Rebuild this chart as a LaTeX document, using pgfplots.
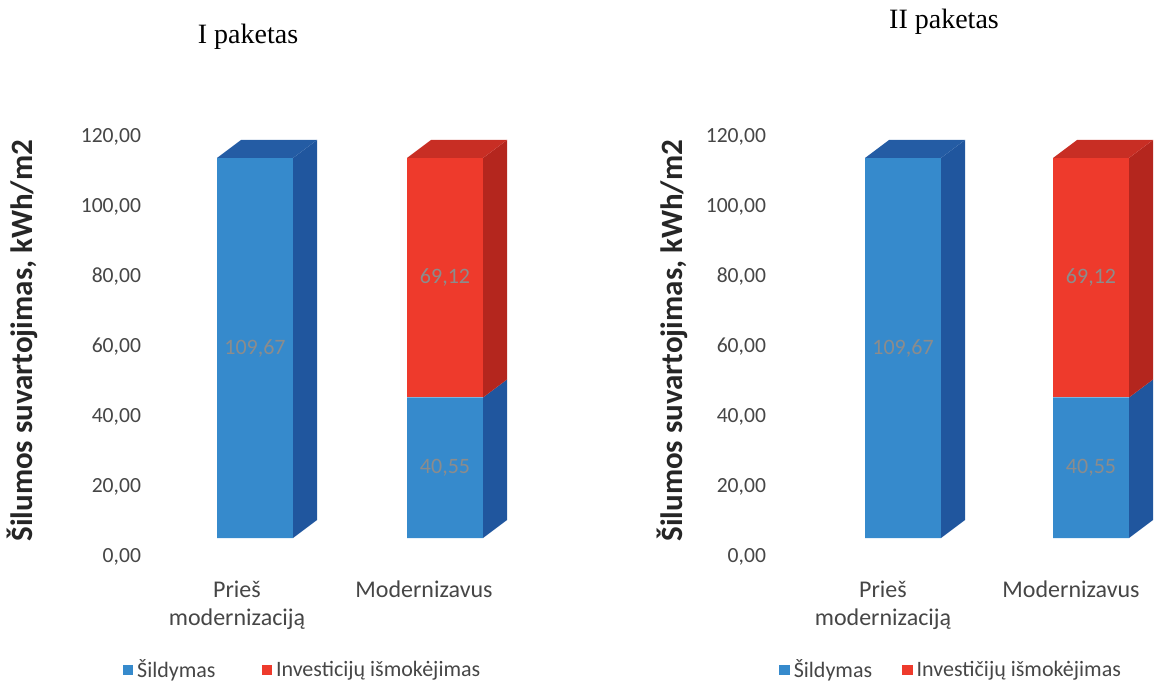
\documentclass[border=0pt]{standalone}
\usepackage{pgfplots}
\pgfplotsset{compat=1.18}
\usepackage{fontspec}
\setmainfont{Carlito}
\newfontfamily\titlefont{Liberation Serif}
\definecolor{fblue}{RGB}{54,138,204}
\definecolor{sblue}{RGB}{32,86,158}
\definecolor{tblue}{RGB}{36,92,164}
\definecolor{fred}{RGB}{238,58,44}
\definecolor{sred}{RGB}{180,38,30}
\definecolor{tred}{RGB}{200,46,36}
\definecolor{tickgray}{RGB}{70,70,70}
\definecolor{valgray}{RGB}{140,140,140}
\tikzset{val/.style={text=valgray, font=\fontsize{11}{13}\selectfont}}

\pgfplotsset{
  tickaxis/.style={
    scale only axis, height=210pt, ymin=0, ymax=120,
    ytick={0,20,...,120},
    axis line style={draw=none}, tick style={draw=none},
    major tick length=0pt,
    yticklabel style={font=\fontsize{10.8}{13}\selectfont, text=tickgray,
      /pgf/number format/fixed, /pgf/number format/fixed zerofill,
      /pgf/number format/precision=2, /pgf/number format/use comma,
      /pgf/number format/assume math mode=true},
    xticklabel style={font=\fontsize{12}{14}\selectfont, text=tickgray,
      align=center, yshift=-8.5pt},
    ylabel={Šilumos suvartojimas, kWh/m2},
    ylabel style={font=\bfseries\fontsize{15.5}{18}\selectfont, text=black!85, anchor=center},
  },
  baraxis/.style={
    scale only axis, height=207.9pt, ymin=0, ymax=120, hide axis,
  },
}

\begin{document}
\begin{tikzpicture}
\useasboundingbox (0,0) rectangle (578pt,340.5pt);

% ---------------- Left panel ----------------
\begin{axis}[tickaxis, width=186pt, at={(74pt,62pt)}, anchor=south west,
  xmin=148, xmax=520, xtick={237,424},
  xticklabels={{Prieš\\modernizaciją},{Modernizavus}},
  ylabel style={at={(axis description cs:-0.339,0.515)}}]
\end{axis}

\begin{axis}[baraxis, width=186pt, at={(74pt,71.5pt)}, anchor=south west,
  xmin=148, xmax=520, ybar stacked, bar width=76,
  legend columns=2,
  legend style={draw=none, fill=none, at={(-0.085,-0.3175)}, anchor=west,
    font=\fontsize{11}{13}\selectfont, text=tickgray,
    /tikz/every even column/.append style={column sep=21pt}},
  legend image code/.code={\fill[#1] (0pt,-2.6pt) rectangle (5.2pt,2.6pt);}]
  \addplot[fill=fblue, draw=none] coordinates {(255,109.67) (445,40.55)};
  \addplot[fill=fred, draw=none] coordinates {(255,0) (445,69.12)};
  \legend{Šildymas, Investicijų išmokėjimas}
\end{axis}

\begin{axis}[baraxis, width=186pt, at={(74pt,71.5pt)}, anchor=south west,
  xmin=148, xmax=520]
  % side and top faces (depth)
  \addplot[fill=sblue, draw=none] coordinates {(293,0) (317,5.195) (317,114.865) (293,109.67)} --cycle;
  \addplot[fill=tblue, draw=none] coordinates {(217,109.67) (293,109.67) (317,114.865) (241,114.865)} --cycle;
  \addplot[fill=sblue, draw=none] coordinates {(483,0) (507,5.195) (507,45.745) (483,40.55)} --cycle;
  \addplot[fill=sred, draw=none] coordinates {(483,40.55) (507,45.745) (507,114.865) (483,109.67)} --cycle;
  \addplot[fill=tred, draw=none] coordinates {(407,109.67) (483,109.67) (507,114.865) (431,114.865)} --cycle;
  \node[val] at (axis cs:255,54.835) {109,67};
  \node[val] at (axis cs:445,75.11) {69,12};
  \node[val] at (axis cs:445,20.275) {40,55};
\end{axis}

\node[font=\titlefont\fontsize{14}{16}\selectfont] at (124pt,322pt) {I paketas};

% ---------------- Right panel ----------------
\begin{axis}[tickaxis, width=191.5pt, at={(386.5pt,62pt)}, anchor=south west,
  xmin=773, xmax=1156, xtick={883,1071},
  xticklabels={{Prieš\\modernizaciją},{Modernizavus}},
  ylabel style={at={(axis description cs:-0.264,0.515)}}]
\end{axis}

\begin{axis}[baraxis, width=191.5pt, at={(386.5pt,71.5pt)}, anchor=south west,
  xmin=773, xmax=1156, ybar stacked, bar width=76,
  legend columns=2,
  legend style={draw=none, fill=none, at={(0.0,-0.3175)}, anchor=west,
    font=\fontsize{11}{13}\selectfont, text=tickgray,
    /tikz/every even column/.append style={column sep=13pt}},
  legend image code/.code={\fill[#1] (0pt,-2.6pt) rectangle (5.2pt,2.6pt);}]
  \addplot[fill=fblue, draw=none] coordinates {(903,109.67) (1091,40.55)};
  \addplot[fill=fred, draw=none] coordinates {(903,0) (1091,69.12)};
  \legend{Šildymas, Investičijų išmokėjimas}
\end{axis}

\begin{axis}[baraxis, width=191.5pt, at={(386.5pt,71.5pt)}, anchor=south west,
  xmin=773, xmax=1156]
  \addplot[fill=sblue, draw=none] coordinates {(941,0) (965,5.195) (965,114.865) (941,109.67)} --cycle;
  \addplot[fill=tblue, draw=none] coordinates {(865,109.67) (941,109.67) (965,114.865) (889,114.865)} --cycle;
  \addplot[fill=sblue, draw=none] coordinates {(1129,0) (1153,5.195) (1153,45.745) (1129,40.55)} --cycle;
  \addplot[fill=sred, draw=none] coordinates {(1129,40.55) (1153,45.745) (1153,114.865) (1129,109.67)} --cycle;
  \addplot[fill=tred, draw=none] coordinates {(1053,109.67) (1129,109.67) (1153,114.865) (1077,114.865)} --cycle;
  \node[val] at (axis cs:903,54.835) {109,67};
  \node[val] at (axis cs:1091,75.11) {69,12};
  \node[val] at (axis cs:1091,20.275) {40,55};
\end{axis}

\node[font=\titlefont\fontsize{14}{16}\selectfont] at (472pt,329.5pt) {II paketas};
\end{tikzpicture}
\end{document}
